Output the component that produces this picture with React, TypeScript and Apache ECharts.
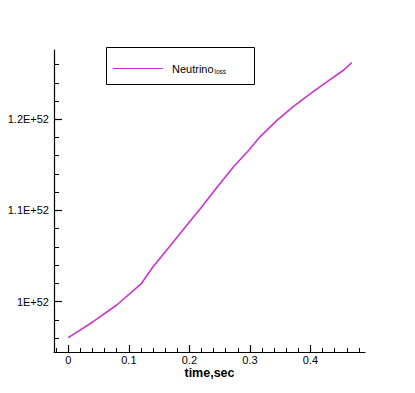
import React, { useEffect, useRef } from "react";
import * as echarts from "echarts";

// time in seconds
const timeSec = [0, 0.041, 0.080, 0.121, 0.140, 0.168, 0.196, 0.218, 0.245, 0.273, 0.298, 0.317, 0.345, 0.372, 0.400, 0.427, 0.455, 0.468];
// neutrino values in units of 1E+52
const neutrino = [0.9606, 0.9781, 0.9964, 1.0202, 1.0383, 1.061, 1.084, 1.102, 1.125, 1.148, 1.166, 1.181, 1.199, 1.214, 1.228, 1.241, 1.254, 1.262];

const xMajorTicks = [0, 0.1, 0.2, 0.3, 0.4];
const xMajorLabels = ["0", "0.1", "0.2", "0.3", "0.4"];
const xMinorTicks = [-0.02, 0.02, 0.04, 0.06, 0.08, 0.12, 0.14, 0.16, 0.18, 0.22, 0.24, 0.26, 0.28, 0.32, 0.34, 0.36, 0.38, 0.42, 0.44, 0.46, 0.48];
const yMajorTicks = [1.0, 1.1, 1.2];
const yMajorLabels = ["1E+52", "1.1E+52", "1.2E+52"];
const yMinorTicks = [0.96, 0.98, 1.02, 1.04, 1.06, 1.08, 1.12, 1.14, 1.16, 1.18, 1.22, 1.24, 1.26];

const X_MIN = -0.0236;
const X_MAX = 0.49;
const Y_MIN = 0.9449;
const Y_MAX = 1.2759;

const FONT = "Liberation Sans, Arial, sans-serif";

export default function App() {
  const ref = useRef<HTMLDivElement>(null);
  useEffect(() => {
    if (!ref.current) return;
    const chart = echarts.init(ref.current, null, { renderer: "svg" });
    const data = timeSec.map((t, i) => [t, neutrino[i]]);
    const labelFor = (arr: number[], labels: string[]) => (v: number) => {
      const i = arr.findIndex((a) => Math.abs(a - v) < 1e-9);
      return i >= 0 ? labels[i] : "";
    };
    chart.setOption({
      animation: false,
      backgroundColor: "#ffffff",
      grid: { left: 54, top: 50, right: 50, bottom: 41 },
      xAxis: [
        {
          type: "value",
          min: X_MIN,
          max: X_MAX,
          position: "bottom",
          axisLine: { show: true, onZero: false, lineStyle: { color: "#000", width: 1.2 } },
          axisTick: { show: true, inside: true, length: 7, customValues: xMajorTicks, lineStyle: { color: "#000", width: 1.2 } },
          axisLabel: {
            show: true,
            customValues: xMajorTicks,
            formatter: labelFor(xMajorTicks, xMajorLabels),
            color: "#000",
            fontFamily: FONT,
            fontSize: 11,
            lineHeight: 10,
            margin: 3,
          },
          splitLine: { show: false },
          name: "time,sec",
          nameLocation: "middle",
          nameGap: 14,
          nameMoveOverlap: false,
          nameTextStyle: { color: "#000", fontFamily: FONT, fontSize: 12.5, fontWeight: "bold", lineHeight: 13 },
        },
        {
          type: "value",
          min: X_MIN,
          max: X_MAX,
          position: "bottom",
          offset: 0,
          axisLine: { show: false, onZero: false },
          axisTick: { show: true, inside: true, length: 4, customValues: xMinorTicks, lineStyle: { color: "#000", width: 1 } },
          axisLabel: { show: false },
          splitLine: { show: false },
        },
      ],
      yAxis: [
        {
          type: "value",
          min: Y_MIN,
          max: Y_MAX,
          position: "left",
          axisLine: { show: true, onZero: false, lineStyle: { color: "#000", width: 1.2 } },
          axisTick: { show: true, inside: true, length: 8, customValues: yMajorTicks, lineStyle: { color: "#000", width: 1.2 } },
          axisLabel: {
            show: true,
            customValues: yMajorTicks,
            formatter: labelFor(yMajorTicks, yMajorLabels),
            color: "#000",
            fontFamily: FONT,
            fontSize: 11,
            margin: 5,
          },
          splitLine: { show: false },
        },
        {
          type: "value",
          min: Y_MIN,
          max: Y_MAX,
          position: "left",
          offset: 0,
          axisLine: { show: false, onZero: false },
          axisTick: { show: true, inside: true, length: 5, customValues: yMinorTicks, lineStyle: { color: "#000", width: 1 } },
          axisLabel: { show: false },
          splitLine: { show: false },
        },
      ],
      legend: {
        show: true,
        left: 113,
        top: 63,
        itemWidth: 50,
        itemHeight: 14,
        padding: 0,
        data: [{ name: "Neutrino", icon: "path://M0,0 L50,0 L50,1 L0,1 Z" }],
        formatter: () => "{a|Neutrino}{b|loss}",
        textStyle: {
          color: "#000",
          fontFamily: FONT,
          rich: {
            a: { fontSize: 11, fontFamily: FONT, color: "#000", padding: [0, 0, 0, 4] },
            b: { fontSize: 6.5, fontFamily: FONT, color: "#000", padding: [6, 0, 0, 1] },
          },
        },
      },
      graphic: [
        {
          type: "rect",
          left: 104,
          top: 45,
          shape: { width: 148, height: 37 },
          style: { fill: "none", stroke: "#000", lineWidth: 1 },
          silent: true,
        },
      ],
      series: [
        {
          name: "Neutrino",
          type: "line",
          xAxisIndex: 0,
          yAxisIndex: 0,
          data,
          symbol: "none",
          smooth: false,
          lineStyle: { color: "#cc33cc", width: 1.6 },
          itemStyle: { color: "#cc33cc" },
        },
      ],
    });
    return () => chart.dispose();
  }, []);
  return <div ref={ref} style={{ position: "absolute", left: 0, top: 0, width: 415, height: 393 }} />;
}
